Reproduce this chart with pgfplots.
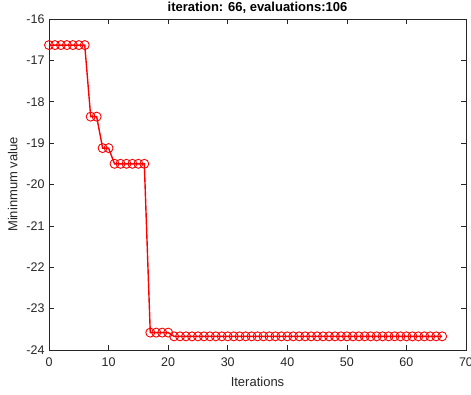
\documentclass[border=0pt]{standalone}
\usepackage{pgfplots}
\pgfplotsset{compat=1.18}
\usepackage{fontspec}
\setmainfont{Liberation Sans}
\definecolor{axgray}{gray}{0.15}
\begin{document}
\begin{tikzpicture}[x=1pt,y=1pt]
\begin{axis}[
  at={(0,0)}, anchor=south west,
  scale only axis, width=417pt, height=331pt,
  xmin=0, xmax=70, ymin=-24, ymax=-16,
  xtick={0,10,...,70}, xticklabels={0,10,20,30,40,50,60,70},
  ytick={-24,-23,...,-16}, yticklabels={-24,-23,-22,-21,-20,-19,-18,-17,-16},
  tick align=inside, xtick pos=both, ytick pos=both,
  major tick length=5pt,
  axis line style={axgray, line width=0.7pt},
  tick style={axgray, line width=0.7pt},
  tick label style={font=\fontsize{12.5}{14}\selectfont, text=axgray},
  xticklabel style={yshift=-4pt},
  yticklabel style={xshift=-1pt},
  label style={font=\fontsize{13}{15}\selectfont, text=axgray},
  title style={font=\bfseries\fontsize{13}{15}\selectfont, yshift=-4pt},
  title={iteration: 66, evaluations:106},
  xlabel={Iterations}, ylabel={Mininmum value},
  xlabel style={yshift=-4pt},
  ylabel style={yshift=2pt},
  clip=false,
]
\addplot[red, line width=1.4pt, mark=o, mark size=4.5pt, mark options={line width=0.9pt}] coordinates {
(0,-16.63)(1,-16.63)(2,-16.63)(3,-16.63)(4,-16.63)(5,-16.63)(6,-16.63)
(7,-18.36)(8,-18.36)
(9,-19.12)(10,-19.12)
(11,-19.5)(12,-19.5)(13,-19.5)(14,-19.5)(15,-19.5)(16,-19.5)
(17,-23.58)(18,-23.58)(19,-23.58)(20,-23.58)
(21,-23.67)(22,-23.67)(23,-23.67)(24,-23.67)(25,-23.67)(26,-23.67)(27,-23.67)(28,-23.67)(29,-23.67)(30,-23.67)
(31,-23.67)(32,-23.67)(33,-23.67)(34,-23.67)(35,-23.67)(36,-23.67)(37,-23.67)(38,-23.67)(39,-23.67)(40,-23.67)
(41,-23.67)(42,-23.67)(43,-23.67)(44,-23.67)(45,-23.67)(46,-23.67)(47,-23.67)(48,-23.67)(49,-23.67)(50,-23.67)
(51,-23.67)(52,-23.67)(53,-23.67)(54,-23.67)(55,-23.67)(56,-23.67)(57,-23.67)(58,-23.67)(59,-23.67)(60,-23.67)
(61,-23.67)(62,-23.67)(63,-23.67)(64,-23.67)(65,-23.67)(66,-23.67)
};
\end{axis}
\pgfresetboundingbox
\useasboundingbox (-49,-45) rectangle (422,350);
\end{tikzpicture}
\end{document}
